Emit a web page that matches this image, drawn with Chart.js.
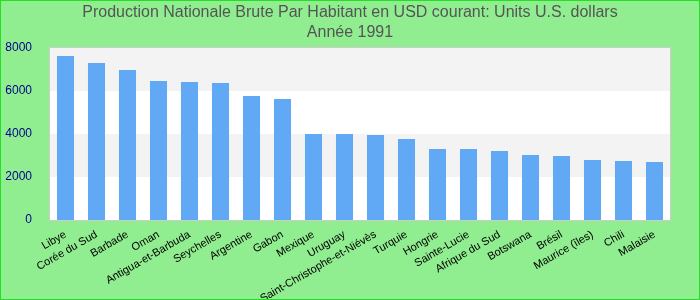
<!DOCTYPE html>
<html>
<head>
<meta charset="utf-8">
<script src="https://cdn.jsdelivr.net/npm/chart.js@4"></script>
<style>
  html, body { margin: 0; padding: 0; background: #90ee90; }
  #wrap { width: 700px; height: 300px; }
</style>
</head>
<body>
<div id="wrap"><canvas id="myChart" width="700" height="300"></canvas></div>
<script>
// pays (catégories)
const pays = [
    'Libye', 'Corée du Sud', 'Barbade', 'Oman', 'Antigua-et-Barbuda',
    'Seychelles', 'Argentine', 'Gabon', 'Mexique', 'Uruguay',
    'Saint-Christophe-et-Niévès', 'Turquie', 'Hongrie', 'Sainte-Lucie', 'Afrique du Sud',
    'Botswana', 'Brésil', 'Maurice (îles)', 'Chili', 'Malaisie'
];

// PNB par habitant, USD courant, 1991
const pnb = [
    7630, 7300, 6980, 6470, 6420,
    6370, 5770, 5630, 4000, 4000,
    3950, 3770, 3300, 3300, 3210,
    3020, 2980, 2790, 2740, 2700
];

// graduations de l'axe Y
const yTicks = [0, 2000, 4000, 6000, 8000];

const titre = [
    'Production Nationale Brute Par Habitant en USD courant: Units U.S. dollars',
    'Année 1991'
];

// fond vert, bandes grises, cadre
const fondPlugin = {
    id: 'fond',
    beforeDraw(chart) {
        const { ctx, chartArea: a, scales: { y } } = chart;
        ctx.save();
        ctx.fillStyle = '#90ee90';
        ctx.fillRect(0, 0, chart.width, chart.height);
        ctx.fillStyle = '#ffffff';
        ctx.fillRect(a.left, a.top, a.right - a.left, a.bottom - a.top);
        ctx.fillStyle = '#f3f3f3';
        for (let i = 1; i < yTicks.length - 1; i += 2) {
            const y1 = y.getPixelForValue(yTicks[i + 1]);
            const y0 = y.getPixelForValue(yTicks[i]);
            ctx.fillRect(a.left, y1, a.right - a.left, y0 - y1);
        }
        ctx.restore();
    },
    afterDraw(chart) {
        const { ctx, chartArea: a } = chart;
        ctx.save();
        ctx.strokeStyle = '#cccccc';
        ctx.lineWidth = 1;
        ctx.strokeRect(a.left - 0.5, a.top - 0.5, a.right - a.left + 1, a.bottom - a.top + 1);
        ctx.strokeStyle = '#22e022';
        ctx.strokeRect(0.5, 0.5, chart.width - 1, chart.height - 1);
        ctx.restore();
    }
};

const ctx = document.getElementById('myChart').getContext('2d');

const config = {
    type: 'bar',
    data: {
        labels: pays,
        datasets: [{
            label: 'PNB par habitant',
            data: pnb,
            backgroundColor: '#61a9f4',
            barPercentage: 0.55,
            categoryPercentage: 1.0
        }]
    },
    options: {
        responsive: false,
        animation: false,
        scales: {
            x: {
                grid: { display: false },
                border: { display: false },
                ticks: {
                    color: '#000000',
                    font: { family: 'Liberation Sans, Arial', size: 11 },
                    minRotation: 30,
                    maxRotation: 30,
                    autoSkip: false,
                    padding: 0
                },
                afterFit(scale) { scale.height = 80; }
            },
            y: {
                min: 0,
                max: 8000,
                grid: { display: false },
                border: { display: false },
                afterBuildTicks(scale) {
                    scale.ticks = yTicks.map(v => ({ value: v }));
                },
                ticks: {
                    color: '#00008b',
                    font: { family: 'Liberation Sans, Arial', size: 12 },
                    padding: 10,
                    callback: v => String(v)
                },
                afterFit(scale) { scale.width = 50; }
            },
            // axe vide à droite pour la marge
            marge: {
                position: 'right',
                grid: { display: false },
                border: { display: false },
                ticks: { display: false },
                afterFit(scale) { scale.width = 30; }
            }
        },
        plugins: {
            legend: { display: false },
            tooltip: { enabled: false },
            title: {
                display: true,
                text: titre,
                color: '#555555',
                font: { family: 'Liberation Sans, Arial', size: 16, weight: 'normal', lineHeight: 1.25 },
                padding: { top: 3, bottom: 5 }
            }
        }
    },
    plugins: [fondPlugin]
};

const myChart = new Chart(ctx, config);
</script>
</body>
</html>
